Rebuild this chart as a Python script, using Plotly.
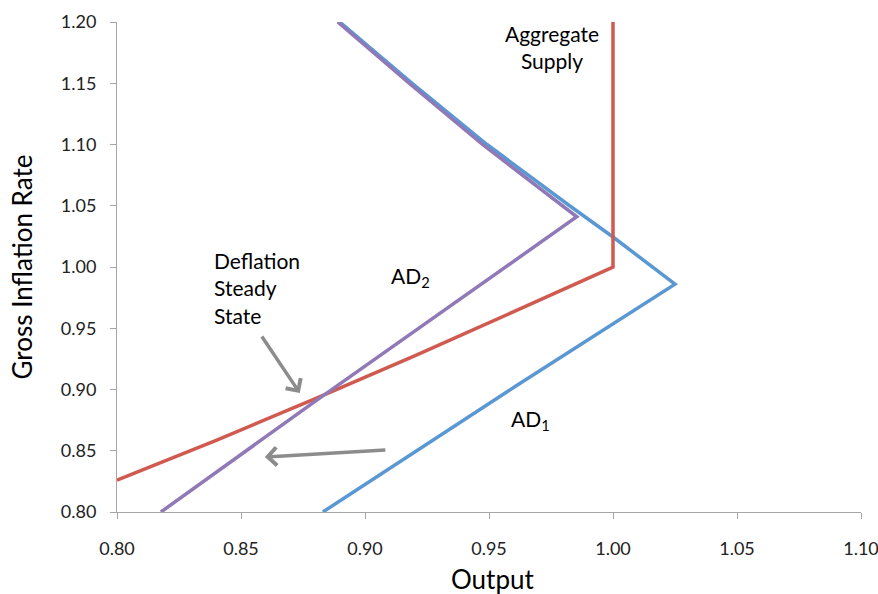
import plotly.graph_objects as go

# Aggregate supply (red)
as_output = [0.80, 0.84, 0.88, 0.92, 0.96, 1.00, 1.00]
as_inflation = [0.826, 0.8585, 0.8925, 0.9275, 0.9635, 1.00, 1.20]

# AD1 (blue)
ad1_output = [0.883, 0.961, 1.025, 1.000, 0.9825, 0.9492, 0.919, 0.8898]
ad1_inflation = [0.80, 0.903, 0.986, 1.0245, 1.05, 1.10, 1.15, 1.20]

# AD2 (purple)
ad2_output = [0.8177, 0.88, 0.9854, 0.9796, 0.9474, 0.9178, 0.889]
ad2_inflation = [0.80, 0.8905, 1.041, 1.05, 1.10, 1.15, 1.20]

x_ticks = [0.80, 0.85, 0.90, 0.95, 1.00, 1.05, 1.10]
y_ticks = [0.80, 0.85, 0.90, 0.95, 1.00, 1.05, 1.10, 1.15, 1.20]

BLUE = "#5a98d4"
RED = "#d05a50"
PURPLE = "#9079b6"
GRAY = "#8c8c8c"
AXIS = "#a6a6a6"
FONT = "Lato"

fig = go.Figure()
fig.add_trace(go.Scatter(x=ad1_output, y=ad1_inflation, mode="lines",
                         line=dict(color=BLUE, width=3.5), name="AD1"))
fig.add_trace(go.Scatter(x=as_output, y=as_inflation, mode="lines",
                         line=dict(color=RED, width=3.5), name="Aggregate Supply"))
fig.add_trace(go.Scatter(x=ad2_output, y=ad2_inflation, mode="lines",
                         line=dict(color=PURPLE, width=3.5), name="AD2"))

txt = dict(family=FONT, size=21, color="#000000")

# arrows: (head x, head y, tail x, tail y)
arrow_heads_x = [0.8737, 0.8596]
arrow_heads_y = [0.8971, 0.8449]
arrow_tails_x = [0.858, 0.9088]
arrow_tails_y = [0.9445, 0.8506]

ann = [
    dict(x=0.9754, y=1.180, text="Aggregate<br>Supply", showarrow=False, font=txt),
    dict(x=0.9185, y=0.9918, text="AD<sub>2</sub>", showarrow=False, font=txt),
    dict(x=0.9669, y=0.875, text="AD<sub>1</sub>", showarrow=False, font=txt),
    dict(x=0.8385, y=0.983, text="Deflation<br>Steady<br>State", showarrow=False,
         xanchor="left", align="left", font=txt),
    dict(x=0.506, y=-0.1367, xref="paper", yref="paper", text="Output",
         showarrow=False, yanchor="middle",
         font=dict(family=FONT, size=26, color="#000")),
]
for hx, hy, tx, ty in zip(arrow_heads_x, arrow_heads_y, arrow_tails_x, arrow_tails_y):
    ann.append(dict(x=hx, y=hy, ax=tx, ay=ty, axref="x", ayref="y",
                    text="", showarrow=True, arrowhead=4, arrowsize=1, arrowwidth=3.5,
                    arrowcolor=GRAY))

fig.update_layout(
    width=878, height=594,
    margin=dict(l=117, r=17, t=22, b=82, autoexpand=False),
    paper_bgcolor="white", plot_bgcolor="white",
    showlegend=False,
    font=dict(family=FONT, size=18, color="#222222"),
    annotations=ann,
)
fig.update_xaxes(
    range=[0.80, 1.10], tickvals=x_ticks, tickformat=".2f", automargin=False,
    showgrid=False, zeroline=False, showline=True, linecolor=AXIS, linewidth=1,
    ticks="outside", ticklen=6, tickcolor=AXIS, ticklabelstandoff=14,
    ticklabeloverflow="allow",
)
fig.update_yaxes(
    range=[0.80, 1.20], tickvals=y_ticks, tickformat=".2f", automargin=False,
    showgrid=False, zeroline=False, showline=True, linecolor=AXIS, linewidth=1,
    ticks="outside", ticklen=6, tickcolor=AXIS, ticklabelstandoff=10,
    title=dict(text="Gross Inflation Rate", font=dict(family=FONT, size=26, color="#000"), standoff=20),
)

fig.write_html("out.html", config={"displayModeBar": False},
               post_script="document.body.style.margin='0';")
